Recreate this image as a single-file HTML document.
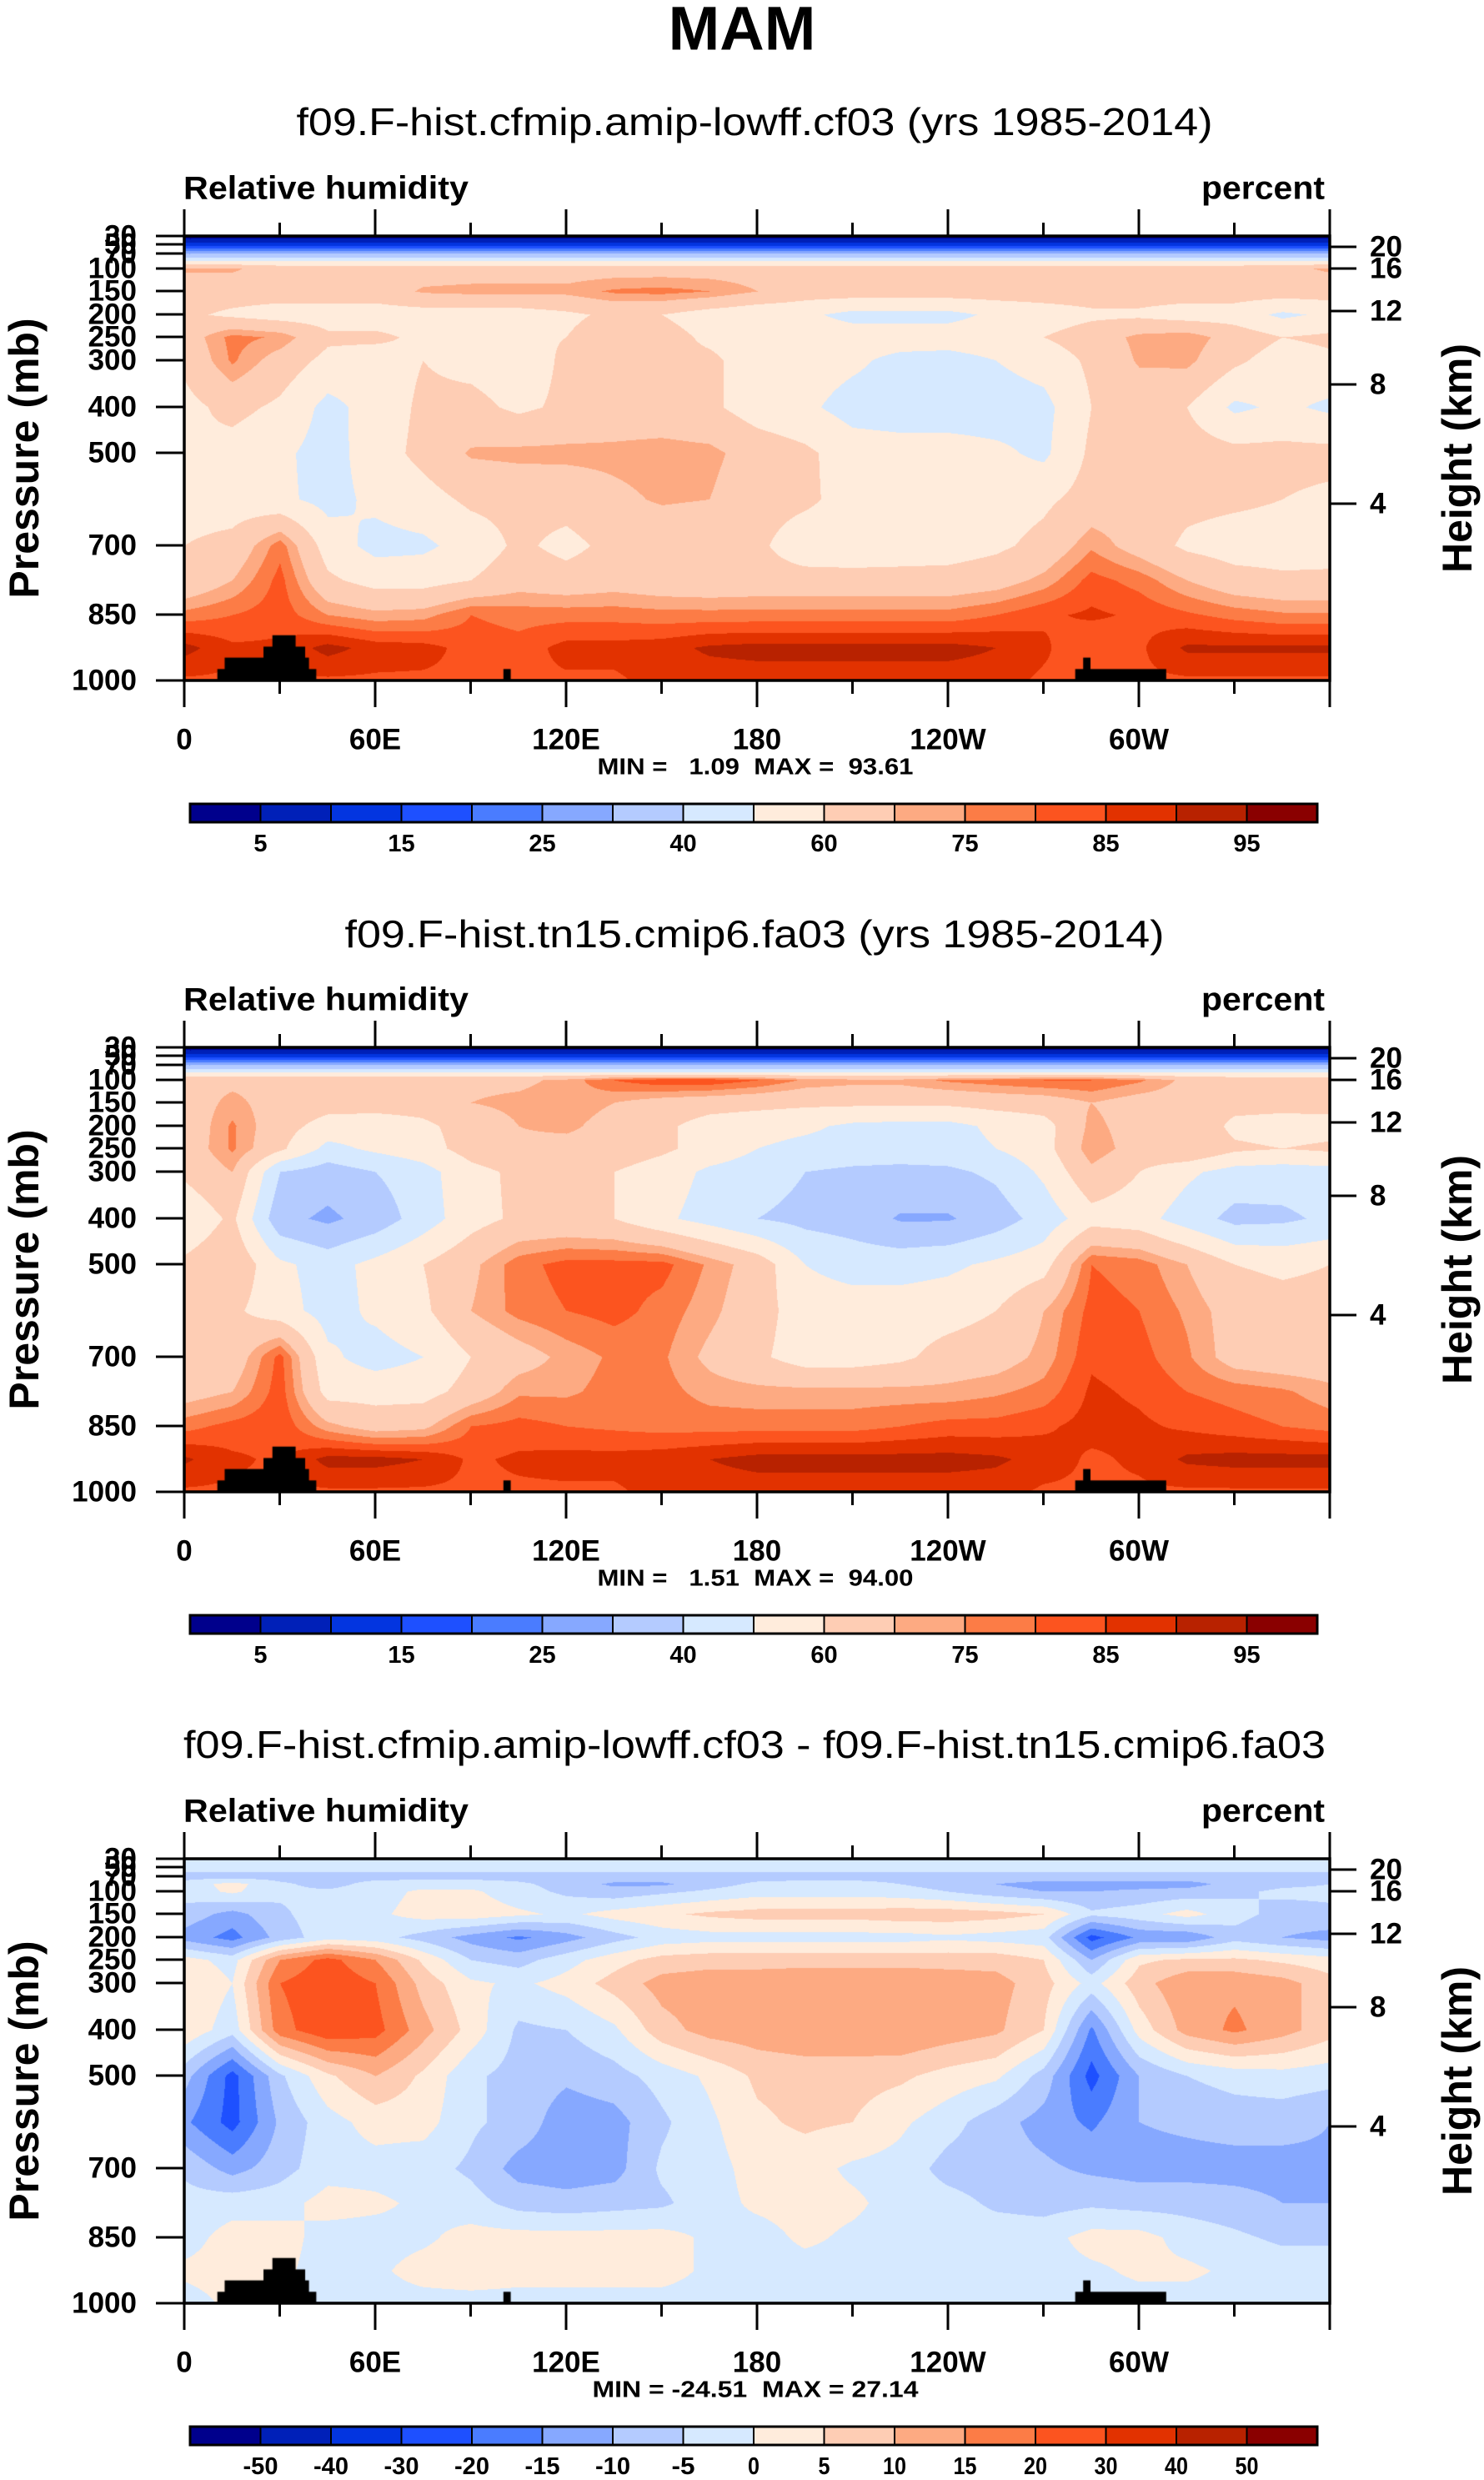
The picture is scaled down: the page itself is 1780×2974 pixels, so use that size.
<!DOCTYPE html>
<html><head><meta charset="utf-8">
<style>
html,body{margin:0;padding:0;background:#fff;}
#root{position:relative;width:1780px;height:2974px;overflow:hidden;background:#fff;}
canvas{position:absolute;}
svg{position:absolute;left:0;top:0;}
text{font-family:"Liberation Sans",Arial,sans-serif;}
.pre{white-space:pre;}
</style></head>
<body>
<div id="root">
<canvas id="c0" width="1374" height="533" style="left:221px;top:283px"></canvas>
<canvas id="c1" width="1374" height="533" style="left:221px;top:1256px"></canvas>
<canvas id="c2" width="1374" height="533" style="left:221px;top:2229px"></canvas>
<svg id="ov" width="1780" height="2974"></svg>
</div>
<script>
// ---------- data ----------
const lons = [0,15,30,45,60,75,90,105,120,135,150,165,180,195,210,225,240,255,270,285,300,315,330,345,360];
const pressures = [30,50,70,85,100,150,200,250,300,400,500,600,700,775,850,925,1000];
const pressureTicks = [1000,850,700,500,400,300,250,200,150,100,70,50,30];
const heightTicks = [20,16,12,8,4];
const lonTickLabels = ["0","60E","120E","180","120W","60W"];
const absLevels = [5,10,15,20,25,30,40,50,60,70,75,80,85,90,95];
const absLabels = ["5","15","25","40","60","75","85","95"];
const diffLevels = [-50,-40,-30,-20,-15,-10,-5,0,5,10,15,20,30,40,50];
const diffLabels = ["-50","-40","-30","-20","-15","-10","-5","0","5","10","15","20","30","40","50"];
const palette = ["#00008c","#0020b8","#0335e0","#1e50ff","#4a7cff","#86a8ff","#b4cbff","#d6e9ff","#ffecdc","#fecdb4","#fdaa82","#fc7c46","#fc541f","#e23200","#b82200","#8a0000"];
const orography = [[10.4,41.5,974],[12.7,39.2,948],[24.9,38,923],[27.7,35,897],[100.3,102.6,974],[280,308.6,974],[282.5,284.8,948]];

function fill(v){return Array(25).fill(v);}
const rhA = [
fill(2), fill(12), fill(30), fill(52),
[71,71,66,66,66,66,66,66,66,66,66,66,66,66,66,66,66,66,66,66,66,66,66,68,71],
[65,65,65,65,65,71,72,72,72,76,77,75,70,65,65,65,65,65,65,65,65,65,65,65,65],
[62,58,55,55,55,55,55,55,58,62,60,55,52,52,47,47,47,52,55,58,58,55,55,48,52],
[65,77,74,62,62,58,60,58,60,66,64,58,55,55,55,55,55,56,60,65,72,74,66,60,62],
[62,76,66,57,55,60,57,54,62,63,62,62,55,55,52,47,46,50,54,62,71,72,62,55,58],
[57,63,58,47,54,62,63,58,62,64,64,62,55,52,46,45,45,45,47,60,64,60,48,52,48],
[60,56,52,46,55,63,71,72,72,72,73,72,66,62,55,54,54,52,48,62,68,65,63,63,63],
[56,55,52,47,52,56,62,63,64,68,71,70,64,62,56,54,54,55,58,64,66,63,62,60,58],
[60,63,78,55,47,48,54,62,57,63,63,62,62,54,53,54,55,58,63,74,66,58,55,55,56],
[62,70,82,62,56,56,60,66,64,66,64,63,64,64,64,64,64,66,72,82,78,70,64,62,62],
[77,80,83,75,72,73,80,78,78,78,77,77,77,77,77,77,77,80,84,86,84,81,78,76,76],
[92,86,86,92,88,87,83,82,87,87,88,91,92,92,92,92,92,90,86,80,84,91,91,91,91],
[84,84,84,84,84,84,84,84,84,84,87,87,87,87,87,87,87,87,84,84,84,84,84,84,84]
];
const rhB = [
fill(2), fill(12), fill(30), fill(52),
[68,68,68,68,68,68,68,68,72,80,84,84,80,74,72,72,76,78,80,80,76,68,66,66,66],
[65,72,66,64,64,64,70,72,74,70,66,64,63,62,62,62,62,64,65,70,66,66,64,64,64],
[63,76,64,56,55,58,64,70,72,66,62,56,54,52,48,47,47,52,56,72,66,70,57,55,56],
[64,76,62,47,52,56,64,68,66,66,62,56,50,47,46,46,46,50,56,74,66,70,62,60,62],
[62,70,40,35,40,46,57,62,62,60,55,48,45,40,38,37,38,42,52,68,60,52,46,45,46],
[52,62,33,28,34,45,56,62,62,60,52,46,40,37,35,29,29,35,44,56,54,45,37,38,42],
[62,68,52,46,53,60,68,78,82,82,82,74,66,50,46,46,48,52,56,80,78,70,60,58,60],
[64,62,54,46,52,58,70,77,80,82,78,72,64,55,55,55,56,60,70,82,80,74,66,64,64],
[64,64,82,52,46,50,60,66,72,76,76,68,62,55,55,58,64,66,72,84,82,76,66,64,64],
[66,70,83,56,56,56,64,74,74,77,77,73,72,72,72,72,72,74,77,86,84,80,78,76,72],
[78,82,84,72,66,68,80,82,80,79,78,78,78,78,78,80,82,82,84,87,86,84,82,80,78],
[91,86,84,92,92,90,84,86,87,87,88,90,92,92,92,92,92,91,88,84,86,91,92,92,92],
[84,84,84,84,84,84,84,84,84,84,87,87,87,87,87,87,87,87,84,84,84,84,84,84,84]
];
const rhDiff = [
fill(-2), fill(-3), fill(-7),
[-3,2,-4,-7,-3,-2,-2,-4,-7,-11,-11,-7,-4,-3,-3,-5,-7,-10,-12,-12,-12,-12,-8,-6,-5],
[-3,1,-4,-4,-2,1,1,-3,-6,-8,-6,-4,-2,-2,-2,-3,-5,-8,-10,-10,-9,-8,-6,-4,-4],
[-7,-12,-6,-2,-1,2,3,1,-1,2,4,6,7,7,7,8,8,7,5,-4,-2,2,-3,-7,-6],
[-12,-17,-8,-2,-3,-7,-12,-16,-12,-7,-3,-2,-2,-2,-2,-2,-1,-2,-3,-22,-14,-14,-7,-10,-12],
[2,-2,15,22,15,4,-5,-7,-2,3,7,8,8,8,8,8,8,8,5,-10,4,6,6,4,2],
[5,0,20,24,20,8,1,-1,2,7,12,13,13,14,14,14,13,12,7,-2,8,14,14,12,7],
[4,-3,18,24,22,12,3,-6,-5,-1,8,12,13,14,14,15,13,11,5,-16,2,12,16,12,7],
[-8,-22,-6,4,10,4,-4,-7,-9,-7,-3,1,6,7,7,6,3,1,-7,-22,-10,-5,-3,-2,-3],
[-14,-22,-9,-2,2,2,-4,-7,-13,-12,-6,-1,4,6,5,1,-3,-8,-12,-16,-10,-9,-8,-8,-10],
[-6,-12,-7,-2,-2,-3,-6,-12,-13,-12,-4,-2,2,2,-1,-2,-7,-8,-9,-11,-12,-12,-12,-12,-11],
[-3,-2,-2,2,1,-1,-3,-7,-8,-7,-6,-2,1,2,1,-2,-3,-6,-7,-6,-7,-7,-8,-10,-10],
[-2,2,2,-2,-2,-1,2,2,2,2,2,-1,-2,1,-1,-2,-2,-2,-2,2,2,-2,-4,-6,-6],
[1,2,1,-2,-1,2,3,2,2,2,2,-1,-2,-2,-2,-2,-2,-2,-2,-1,1,1,-1,-2,-2],
[-2,1,1,-2,-2,-2,-2,-2,-2,-2,-2,-2,-2,-2,-2,-2,-2,-2,-2,-2,-2,-2,-2,-2,-2]
];

// ---------- geometry ----------
const BOX_L=221, BOX_W=1374, BOX_H=533;
const panelTops=[283,1256,2229];
const pMapP=[30,50,70,100,150,200,250,300,400,500,700,850,1000];
const pMapY=[0,10,21,39,66,94,121,149,205,260,371,454,533];
function pY(p){
  for(let i=0;i<pMapP.length-1;i++){
    if(p<=pMapP[i+1]){const t=(p-pMapP[i])/(pMapP[i+1]-pMapP[i]);return pMapY[i]+t*(pMapY[i+1]-pMapY[i]);}
  }
  return BOX_H;
}
const hMapY=[13,39,90,178,321];
function xOf(lon){return lon/360*BOX_W;}

function colorIndex(v,levels){let i=0;while(i<levels.length&&v>=levels[i])i++;return i;}
function hex(c){return [parseInt(c.slice(1,3),16),parseInt(c.slice(3,5),16),parseInt(c.slice(5,7),16)];}
const palRGB=palette.map(hex);

function drawField(canvasId,grid,levels){
  const cv=document.getElementById(canvasId),ctx=cv.getContext('2d');
  const img=ctx.createImageData(BOX_W,BOX_H),d=img.data;
  const ry=pressures.map(pY);
  for(let y=0;y<BOX_H;y++){
    let k=0;while(k<ry.length-2&&y>ry[k+1])k++;
    let t=(y-ry[k])/(ry[k+1]-ry[k]);t=Math.max(0,Math.min(1,t));
    const r0=grid[k],r1=grid[k+1];
    for(let x=0;x<BOX_W;x++){
      const f=x/BOX_W*(lons.length-1);let j=Math.floor(f);if(j>=lons.length-1)j=lons.length-2;const s=f-j;
      const v=(1-t)*((1-s)*r0[j]+s*r0[j+1])+t*((1-s)*r1[j]+s*r1[j+1]);
      const c=palRGB[colorIndex(v,levels)];const o=(y*BOX_W+x)*4;
      d[o]=c[0];d[o+1]=c[1];d[o+2]=c[2];d[o+3]=255;
    }
  }
  ctx.putImageData(img,0,0);
  ctx.fillStyle='#000';
  orography.forEach(o=>{const x0=xOf(o[0]),x1=xOf(o[1]),yt=pY(o[2]);ctx.fillRect(x0,yt,x1-x0,BOX_H-yt);});
}
drawField('c0',rhA,absLevels);
drawField('c1',rhB,absLevels);
drawField('c2',rhDiff,diffLevels);

// ---------- SVG overlay ----------
const NS='http://www.w3.org/2000/svg';
const ov=document.getElementById('ov');
function el(tag,attrs,parent){const e=document.createElementNS(NS,tag);for(const k in attrs)e.setAttribute(k,attrs[k]);(parent||ov).appendChild(e);return e;}
function txt(s,x,y,size,weight,anchor,parent,extra){const e=el('text',Object.assign({x:x,y:y,'font-size':size,'font-weight':weight,'text-anchor':anchor||'middle','dominant-baseline':'central',fill:'#000'},extra||{}),parent);e.textContent=s;return e;}

const t0=txt('MAM',890,34,74,'bold','middle');



const titles=[["f09.F-hist.cfmip.amip-lowff.cf03 (yrs 1985-2014)",905,146,1099],["f09.F-hist.tn15.cmip6.fa03 (yrs 1985-2014)",905,1120,983],["f09.F-hist.cfmip.amip-lowff.cf03 - f09.F-hist.tn15.cmip6.fa03",905,2092,1370]];
const minmax=["MIN =   1.09  MAX =  93.61","MIN =   1.51  MAX =  94.00","MIN = -24.51  MAX = 27.14"];
const minmaxW=[379,379,391];

for(let pi=0;pi<3;pi++){
  const top=panelTops[pi];
  const g=el('g',{});
  
  
  const tt=txt(titles[pi][0],titles[pi][1],titles[pi][2],46,'normal','middle',g,{textLength:titles[pi][3],lengthAdjust:'spacingAndGlyphs'});
  
  
  const lt=txt('Relative humidity',220,top-57,39,'bold','start',g,{textLength:342,lengthAdjust:'spacingAndGlyphs'});
  
  
  const rt=txt('percent',1589,top-57,39,'bold','end',g,{textLength:148,lengthAdjust:'spacingAndGlyphs'});
  
  
  const bx=el('rect',{x:BOX_L,y:top,width:BOX_W,height:BOX_H,fill:'none',stroke:'#000','stroke-width':3.5},g);
  
  
  for(let lon=0;lon<=360;lon+=30){
    const x=BOX_L+xOf(lon),len=(lon%60===0)?32:16;
    el('line',{x1:x,y1:top+BOX_H,x2:x,y2:top+BOX_H+len,stroke:'#000','stroke-width':3},g);
    el('line',{x1:x,y1:top,x2:x,y2:top-len,stroke:'#000','stroke-width':3},g);
  }
  lonTickLabels.forEach((s,i)=>{
    const l=txt(s,BOX_L+xOf(i*60),top+BOX_H+71,35,'bold','middle',g);
    
    
  });
  pressureTicks.forEach(p=>{
    const y=top+pY(p);
    el('line',{x1:BOX_L-34,y1:y,x2:BOX_L,y2:y,stroke:'#000','stroke-width':3},g);
    const l=txt(String(p),164,y,35,'bold','end',g);
    
    
  });
  heightTicks.forEach((h,i)=>{
    const y=top+hMapY[i];
    el('line',{x1:BOX_L+BOX_W,y1:y,x2:BOX_L+BOX_W+32,y2:y,stroke:'#000','stroke-width':3},g);
    const l=txt(String(h),1643,y,35,'bold','start',g);
    
    
  });
  const ya=txt('Pressure (mb)',29,top+BOX_H/2,50,'bold','middle',g,{transform:'rotate(-90 29 '+(top+BOX_H/2)+')'});
  
  
  const ya2=txt('Height (km)',1748,top+BOX_H/2,50,'bold','middle',g,{transform:'rotate(-90 1748 '+(top+BOX_H/2)+')'});
  
  
  const mm=txt(minmax[pi],906,top+636,28,'bold','middle',g,{textLength:minmaxW[pi],lengthAdjust:'spacingAndGlyphs','class':'pre'});
  
  
  const cb=el('g',{},g);
  
  
  const cbL=228,cbW=1352,cbT=top+681,cbH=22,bw=cbW/16;
  palette.forEach((c,i)=>{
    const r=el('rect',{x:cbL+i*bw,y:cbT,width:bw,height:cbH,fill:c,stroke:'#000','stroke-width':2},cb);
    
    
  });
  el('rect',{x:cbL,y:cbT,width:cbW,height:cbH,fill:'none',stroke:'#000','stroke-width':3},cb);
  if(pi<2){
    absLabels.forEach((s,i)=>{
      const l=txt(s,cbL+bw*(2*i+1),cbT+48,29,'bold','middle',cb);
      
      
    });
  } else {
    diffLabels.forEach((s,i)=>{
      const l=txt(s,cbL+bw*(i+1),cbT+48,29,'bold','middle',cb,{textLength:s.length*14,lengthAdjust:'spacingAndGlyphs'});
      
      
    });
  }
}
</script>
</body></html>
